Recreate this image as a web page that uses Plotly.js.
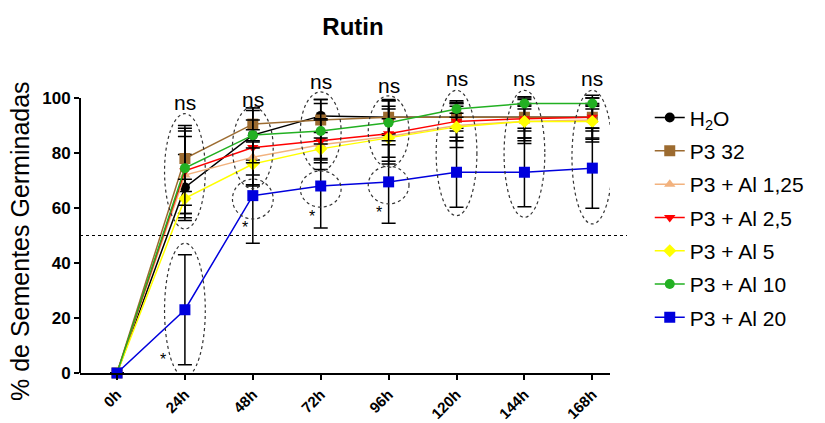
<!DOCTYPE html>
<html>
<head>
<meta charset="utf-8">
<script src="https://cdn.plot.ly/plotly-3.0.1.min.js"></script>
<style>html,body{margin:0;padding:0;background:#fff;}#chart{width:825px;height:423px;}</style>
</head>
<body>
<div id="chart"></div>
<script>
// ---- data ----
const times = ['0h','24h','48h','72h','96h','120h','144h','168h'];
const seriesNames = ['H<sub>2</sub>O','P3 32','P3 + Al 1,25','P3 + Al 2,5','P3 + Al 5','P3 + Al 10','P3 + Al 20'];
const h2o     = [0, 67.5, 86.5, 93.5, 93, 93, 93, 93];
const h2oErr  = [0, 12, 9, 6, 6.5, 4, 4, 4];
const p332    = [0, 78, 90.5, 92, 93, 93, 93, 93];
const p332Err = [0, 12, 6, 7.5, 6, 5, 5, 5];
const al125   = [0, 72, 78.5, 83, 86, 90, 91.5, 92];
const al125Err= [0, 14, 10, 9, 10, 8, 8, 8];
const al25    = [0, 73.5, 82, 84.5, 87, 91.5, 92.5, 93];
const al25Err = [0, 15.5, 10, 8, 10, 7, 8, 8];
const al5     = [0, 63.5, 76, 81.5, 85.5, 89.5, 91.5, 91.5];
const al5Err  = [0, 7, 8, 4, 7, 5, 6, 6];
const al10    = [0, 74.5, 86.5, 88, 91, 96, 98, 98];
const al10Err = [0, 13.5, 10, 10, 8, 3, 2, 2];
const al20    = [0, 23, 64.5, 68, 69.5, 73, 73, 74.5];
const al20Err = [0, 20, 17.3, 15.3, 15, 12.7, 12.5, 14.6];
const nsLabels = ['', 'ns', 'ns', 'ns', 'ns', 'ns', 'ns', 'ns'];
const starLabels = ['', '*', '*', '*', '*', '', '', ''];
const yTitle = '% de Sementes Germinadas';

// ---- styling / layout config ----
const values = [h2o, p332, al125, al25, al5, al10, al20];
const errs = [h2oErr, p332Err, al125Err, al25Err, al5Err, al10Err, al20Err];
const colors = ['#000000', '#9C6B30', '#F2B27E', '#FF0000', '#FFFF00', '#22B022', '#0000DD'];
const symbols = ['circle', 'square', 'triangle-up', 'triangle-down', 'diamond', 'circle', 'square'];
const sizes = [10, 11, 10, 10, 10, 10, 11];
const xIdx = times.map((t, i) => i);

const FONT = 'Arial, "Liberation Sans", sans-serif';

const traces = values.map((v, k) => ({
  type: 'scatter', mode: 'lines+markers',
  x: xIdx, y: v, name: seriesNames[k], legendgroup: 'g' + k,
  cliponaxis: false,
  line: {color: colors[k], width: 1.5},
  marker: {color: colors[k], symbol: symbols[k], size: sizes[k], line: {width: 0}},
  error_y: {type: 'data', array: errs[k], visible: true, color: '#000', thickness: 1.5, width: 7}
}));

// oval groupings [x index, low, high] (decorative annotation)
const ovals = [
  [1, 52.4, 94.3], [1, -1.5, 47.2],
  [2, 67.0, 96.8], [2, 56.0, 70.5],
  [3, 73.5, 102.2], [3, 60.3, 73.5],
  [4, 74.8, 100.8], [4, 61.5, 75.2],
  [5, 57.2, 102.8], [6, 56.6, 102.8], [7, 54.2, 102.8]
];
const shapes = ovals.map(o => ({
  type: 'circle', xref: 'x', yref: 'y',
  x0: o[0] - 0.3, x1: o[0] + 0.3, y0: o[1], y1: o[2],
  line: {color: '#333', width: 1.2, dash: 'dot'}
}));
shapes.push({type: 'line', xref: 'paper', yref: 'y', x0: 0, x1: 1.032, y0: 50, y1: 50,
  line: {color: '#000', width: 1.2, dash: 'dot'}});
shapes.push({type: 'line', xref: 'paper', yref: 'y', x0: 0, x1: 0, y0: 0, y1: 100,
  line: {color: '#000', width: 2}});

const nsY = [0, 98.5, 99.5, 105.9, 104.7, 107, 107, 107];
const annotations = [];
nsLabels.forEach((t, i) => {
  if (t) annotations.push({x: i, y: nsY[i], xref: 'x', yref: 'y', text: t, showarrow: false,
    font: {family: FONT, size: 21, color: '#000'}, yanchor: 'middle'});
});
const starPos = [[0, 0], [0.68, 5.0], [1.89, 53.0], [2.87, 57.0], [3.86, 58.5]];
starLabels.forEach((t, i) => {
  if (t) annotations.push({x: starPos[i][0], y: starPos[i][1], xref: 'x', yref: 'y', text: t, showarrow: false,
    font: {family: FONT, size: 16, color: '#000'}, yanchor: 'middle'});
});
// y-axis title placed as a rotated annotation
annotations.push({xref: 'paper', yref: 'y', x: -60 / 530, y: 48, text: yTitle, textangle: -90,
  showarrow: false, xanchor: 'center', yanchor: 'middle', font: {family: FONT, size: 25, color: '#000'}});

const layout = {
  width: 825, height: 423,
  margin: {l: 80, r: 215, t: 75.5, b: 50, pad: 0},
  paper_bgcolor: '#fff', plot_bgcolor: '#fff',
  font: {family: FONT, color: '#000'},
  title: {text: '<b>Rutin</b>', x: 353 / 825, xref: 'container', xanchor: 'center',
    y: 1 - 27 / 423, yref: 'container', yanchor: 'middle', font: {family: FONT, size: 24, color: '#000'}},
  xaxis: {
    range: [-0.545, 7.26], tickmode: 'array', tickvals: xIdx, ticktext: times,
    tickangle: -45, showline: true, linecolor: '#000', linewidth: 2,
    ticks: 'outside', ticklen: 5, tickwidth: 2, tickcolor: '#000',
    tickfont: {family: FONT, size: 15, color: '#000', weight: 'bold'},
    showgrid: false, zeroline: false
  },
  yaxis: {
    range: [0, 108], tickmode: 'array', tickvals: [0, 20, 40, 60, 80, 100],
    showline: false, ticks: 'outside', ticklen: 5, tickwidth: 2, tickcolor: '#000',
    tickfont: {family: FONT, size: 17, color: '#000', weight: 'bold'},
    showgrid: false, zeroline: false
  },
  legend: {x: 1.075, xanchor: 'left', y: 0.928, yanchor: 'top',
    font: {family: FONT, size: 21, color: '#000'}, tracegroupgap: 3, bgcolor: 'rgba(0,0,0,0)'},
  shapes: shapes,
  annotations: annotations,
  showlegend: true
};

Plotly.newPlot('chart', traces, layout, {displayModeBar: false, staticPlot: true});
</script>
</body>
</html>
